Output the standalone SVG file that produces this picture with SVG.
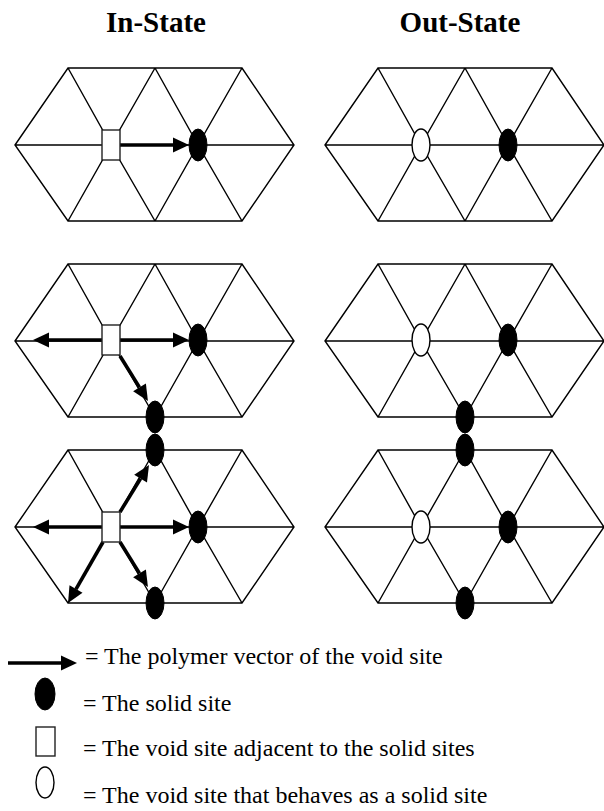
<svg xmlns="http://www.w3.org/2000/svg" xmlns:xlink="http://www.w3.org/1999/xlink" width="604" height="811" viewBox="0 0 604 811">
<style>
.grid{fill:none;stroke:#000;stroke-width:1.4;stroke-linejoin:miter}
.solid{fill:#000;stroke:#000;stroke-width:1}
.hollow{fill:#fff;stroke:#000;stroke-width:1.4}
.void{fill:#fff;stroke:#222;stroke-width:1.4}
.vec{stroke:#000;stroke-width:3.6;fill:none;marker-end:url(#head)}
</style>
<defs>
<marker id="head" markerUnits="userSpaceOnUse" markerWidth="16" markerHeight="15" refX="0" refY="7.5" viewBox="0 0 16 15" orient="auto" overflow="visible">
<path d="M0,0 L16,7.5 L0,15 z" fill="#000"/>
</marker>
<g id="hex">
<path class="grid" d="M15,145 L68,68 L242,68 L294,145 L242,221 L68,221 Z M15,145 L294,145 M68,68 L111,145 L68,221 M155,68 L111,145 L155,221 M155,68 L198,145 L155,221 M242,68 L198,145 L242,221"/>
</g>
</defs>
<g id="titles">
<text x="156" y="32" font-family="'Liberation Serif'" font-size="29" font-weight="bold" text-anchor="middle">In-State</text>
<text x="460" y="32" font-family="'Liberation Serif'" font-size="29" font-weight="bold" text-anchor="middle">Out-State</text>
</g>
<g id="lattices">
<use xlink:href="#hex" x="0" y="0"/>
<use xlink:href="#hex" x="310" y="0"/>
<use xlink:href="#hex" x="0" y="196"/>
<use xlink:href="#hex" x="310" y="196"/>
<use xlink:href="#hex" x="0" y="382"/>
<use xlink:href="#hex" x="310" y="382"/>
</g>
<g id="connectors">
<line class="vec" x1="120" y1="145" x2="173" y2="145"/>
<line class="vec" x1="102" y1="340" x2="49" y2="340"/>
<line class="vec" x1="120" y1="340" x2="173" y2="340"/>
<line class="vec" x1="120" y1="356" x2="139.5" y2="387.4"/>
<line class="vec" x1="102" y1="527" x2="49" y2="527"/>
<line class="vec" x1="120" y1="527" x2="173" y2="527"/>
<line class="vec" x1="120" y1="512" x2="140.6" y2="478.6"/>
<line class="vec" x1="120" y1="542" x2="139.5" y2="573.4"/>
<line class="vec" x1="103" y1="542" x2="76" y2="589.1"/>
</g>
<g id="in-state-sites">
<rect id="void-1" class="void" x="102" y="130" width="18" height="30"/>
<ellipse id="solid-1" class="solid" cx="198" cy="145" rx="9" ry="16"/>
<rect id="void-2" class="void" x="102" y="325" width="18" height="30"/>
<ellipse id="solid-2a" class="solid" cx="198" cy="340" rx="9" ry="16"/>
<ellipse id="solid-2b" class="solid" cx="155" cy="417" rx="9" ry="16"/>
<rect id="void-3" class="void" x="102" y="512" width="18" height="30"/>
<ellipse id="solid-3a" class="solid" cx="155" cy="450" rx="9" ry="16"/>
<ellipse id="solid-3b" class="solid" cx="198" cy="527" rx="9" ry="16"/>
<ellipse id="solid-3c" class="solid" cx="155" cy="603" rx="9" ry="16"/>
</g>
<g id="out-state-sites">
<ellipse id="hollow-1" class="hollow" cx="421" cy="145" rx="9" ry="16"/>
<ellipse id="osolid-1" class="solid" cx="508" cy="145" rx="9" ry="16"/>
<ellipse id="hollow-2" class="hollow" cx="421" cy="340" rx="9" ry="16"/>
<ellipse id="osolid-2a" class="solid" cx="508" cy="340" rx="9" ry="16"/>
<ellipse id="osolid-2b" class="solid" cx="465" cy="417" rx="9" ry="16"/>
<ellipse id="osolid-3a" class="solid" cx="465" cy="450" rx="9" ry="16"/>
<ellipse id="hollow-3" class="hollow" cx="421" cy="527" rx="9" ry="16"/>
<ellipse id="osolid-3b" class="solid" cx="508" cy="527" rx="9" ry="16"/>
<ellipse id="osolid-3c" class="solid" cx="465" cy="603" rx="9" ry="16"/>
</g>
<g id="legend">
<g id="legend-vector">
<line class="vec" x1="8" y1="663" x2="61" y2="663"/>
<text x="85" y="664" font-family="'Liberation Serif'" font-size="24">= The polymer vector of the void site</text>
</g>
<g id="legend-solid">
<ellipse class="solid" cx="45" cy="694" rx="10" ry="16"/>
<text x="83" y="711" font-family="'Liberation Serif'" font-size="24">= The solid site</text>
</g>
<g id="legend-void">
<rect class="void" x="36" y="727" width="19" height="29"/>
<text x="83" y="756" font-family="'Liberation Serif'" font-size="24">= The void site adjacent to the solid sites</text>
</g>
<g id="legend-hollow">
<ellipse class="hollow" cx="45" cy="782.5" rx="9" ry="15.5"/>
<text x="83" y="803" font-family="'Liberation Serif'" font-size="24">= The void site that behaves as a solid site</text>
</g>
</g>
</svg>
